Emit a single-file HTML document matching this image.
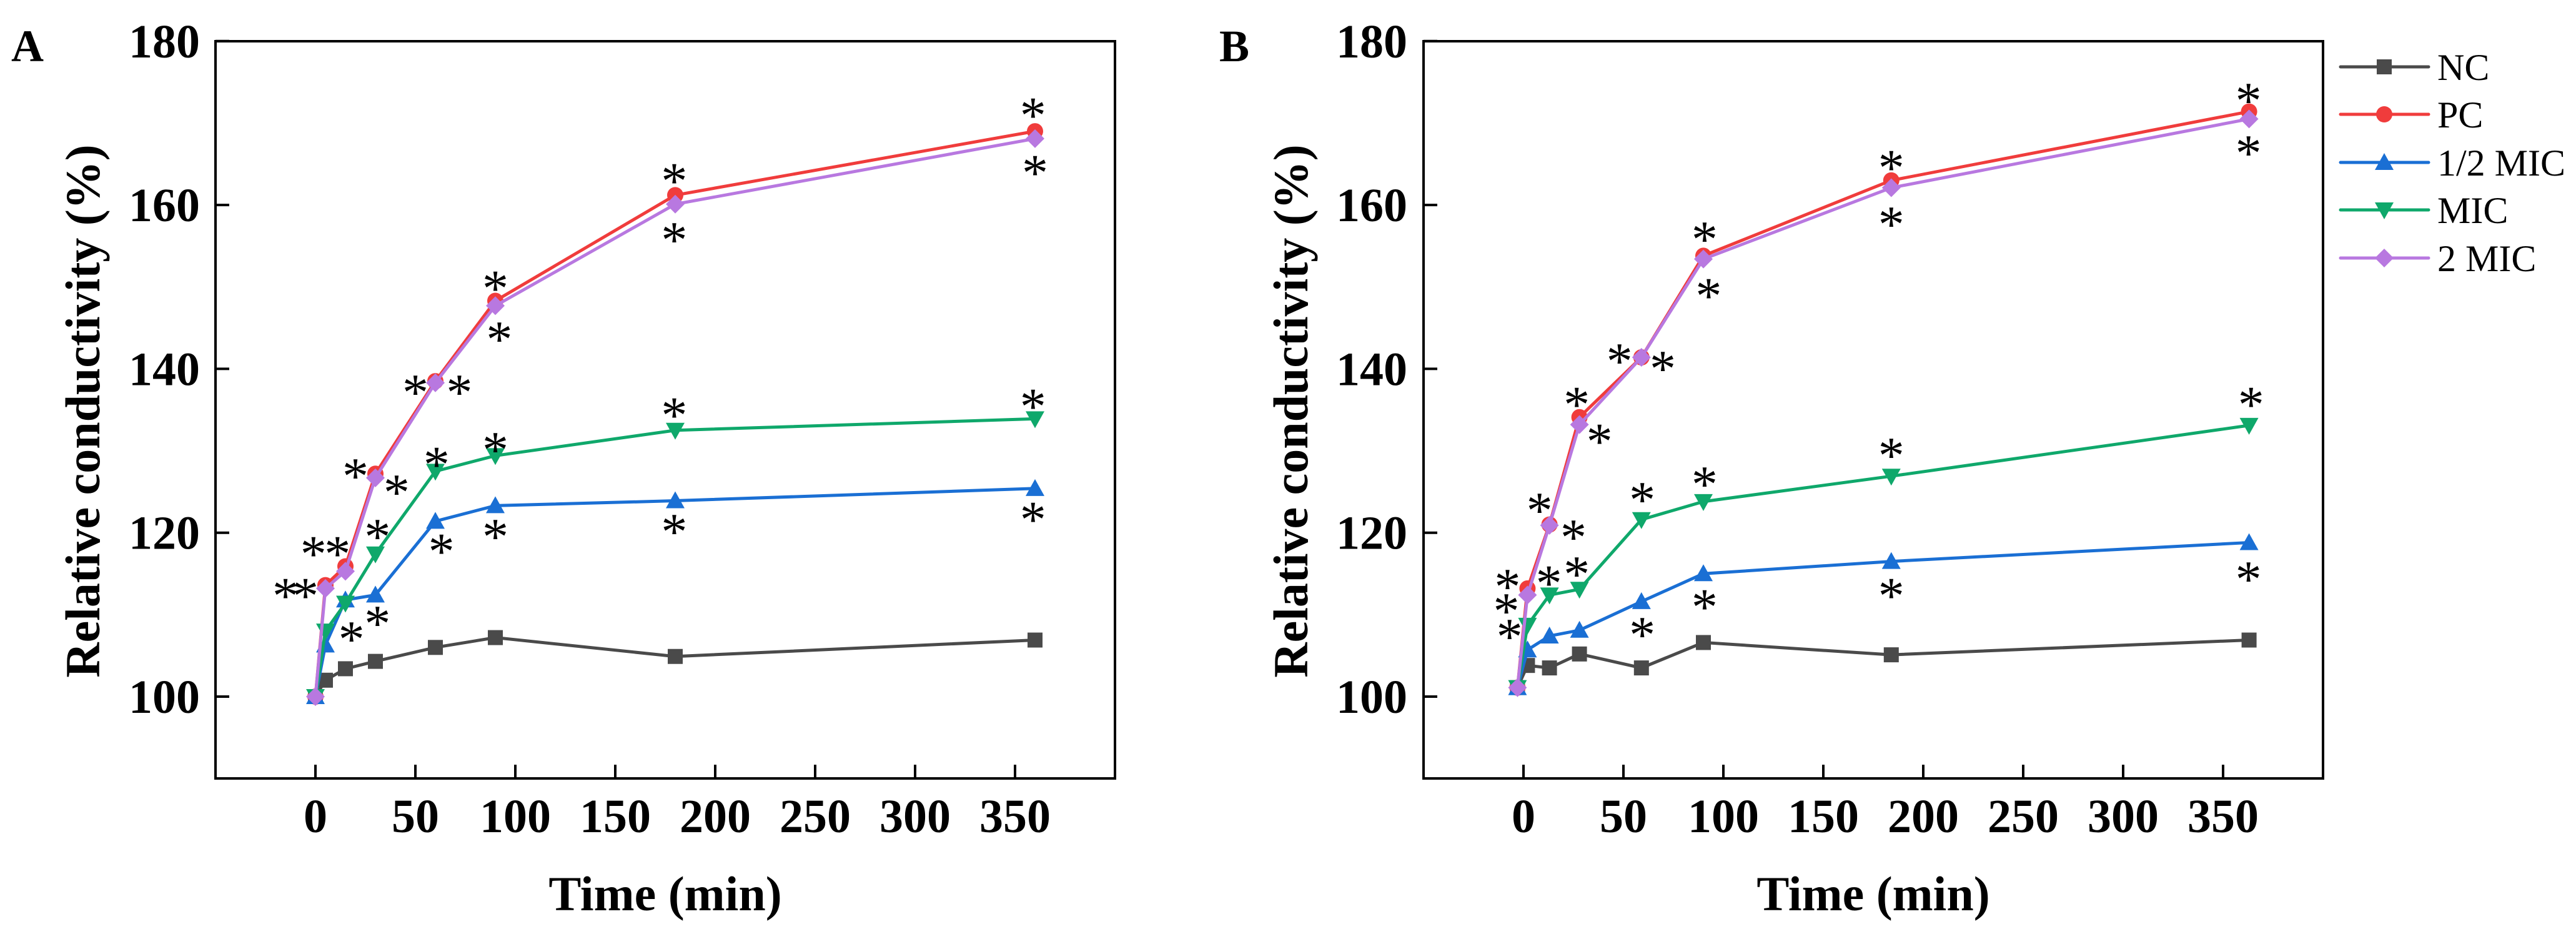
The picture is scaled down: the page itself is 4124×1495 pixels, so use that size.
<!DOCTYPE html>
<html><head><meta charset="utf-8"><style>
html,body{margin:0;padding:0;background:#fff}
svg{display:block}
text{font-family:"Liberation Serif",serif}
</style></head><body>
<svg id="c" width="4124" height="1495" viewBox="0 0 4124 1495" xmlns="http://www.w3.org/2000/svg"></svg>
<script>
const seriesNames = ["NC","PC","1/2 MIC","MIC","2 MIC"];
const colors = ["#4a4a4a","#f03c3c","#1a6fd4","#0fa86b","#b878e0"];
const markers = ["square","circle","triUp","triDown","diamond"];
const xTicks = [0,50,100,150,200,250,300,350];
const yTicks = [100,120,140,160,180];
const timesA = [0,5,15,30,60,90,180,360];
const timesB = [-3,2,13,28,59,90,184,363];
const aNC = [100,102.0,103.4,104.3,106.0,107.2,104.9,106.9];
const aPC = [100,113.6,115.9,127.2,138.5,148.3,161.2,169.0];
const aHalf = [100,106.3,111.8,112.4,121.4,123.3,123.9,125.4];
const aMIC = [100,108.0,111.4,117.4,127.5,129.4,132.5,133.9];
const a2MIC = [100,113.2,115.3,126.7,138.3,147.7,160.1,168.1];
const bNC = [101.1,103.8,103.5,105.2,103.5,106.6,105.1,106.9];
const bPC = [101.1,113.2,121.0,134.1,141.4,153.8,163.0,171.4];
const bHalf = [101.1,105.7,107.4,108.1,111.6,115.0,116.5,118.8];
const bMIC = [101.1,108.7,112.4,113.1,121.6,123.8,126.9,133.1];
const b2MIC = [101.1,112.4,120.9,133.2,141.4,153.4,162.1,170.5];
const starsAx = [-15,-5,-1,11,18,20,31,31,40.6,50,72,60.6,63,90,92,90,90,179.5,179.5,179.5,179.5,359,360,359,359];
const starsAy = [113.4,113.4,118.5,118.5,108.1,128,120.6,110,126,138.2,138.2,129.4,118.8,150.9,144.7,131.2,120.6,164,156.8,135.4,121.2,172,165,136.5,122.7];
const starsBx = [-8,-8.6,-7,8,12.7,25,26.6,26.6,38,48,69.7,59.4,59.4,90.6,92.6,90.6,90.6,184,184,184,184,362.7,362.7,364,362.7];
const starsBy = [114.5,111.5,108.4,123.8,114.9,120.5,116,136.7,132.2,142,141.1,125.1,108.6,156.9,150,127,112,165.6,158.7,130.5,113.4,173.8,167.4,136.7,115.4];

const NS="http://www.w3.org/2000/svg";
const svg=document.getElementById('c');
function mk(tag,attrs,parent){const e=document.createElementNS(NS,tag);for(const k in attrs)e.setAttribute(k,attrs[k]);(parent||svg).appendChild(e);return e;}
function marker(type,cx,cy,col,g){
  let e;
  if(type==="square")e=mk('rect',{x:cx-12,y:cy-12,width:24,height:24,fill:col},g);
  else if(type==="circle")e=mk('circle',{cx:cx,cy:cy,r:13,fill:col},g);
  else if(type==="triUp")e=mk('polygon',{points:`${cx},${cy-15} ${cx-15},${cy+12} ${cx+15},${cy+12}`,fill:col},g);
  else if(type==="triDown")e=mk('polygon',{points:`${cx},${cy+15} ${cx-15},${cy-12} ${cx+15},${cy-12}`,fill:col},g);
  else e=mk('polygon',{points:`${cx},${cy-15} ${cx+15},${cy} ${cx},${cy+15} ${cx-15},${cy}`,fill:col},g);
  return e;
}
function panel(id,x0px,letterX,labelRight,times,data,sx,sy){
  const left=x0px-160, right=x0px+1280, top=66, bottom=1246;
  const X=v=>x0px+v*3.2;
  const Y=v=>1115-(v-100)*13.115;
  const g=mk('g',{});
  
  
  const lt=mk('text',{x:letterX,y:98,'font-size':72,'font-weight':'bold'},g);lt.textContent=id;
  
  
  const fr=mk('rect',{x:left,y:top,width:right-left,height:bottom-top,fill:'none',stroke:'#000','stroke-width':4},g);
  
  
  xTicks.forEach(t=>{
    mk('line',{x1:X(t),x2:X(t),y1:bottom,y2:bottom-22,stroke:'#000','stroke-width':4},g);
    const tx=mk('text',{x:X(t),y:1332,'font-size':76,'font-weight':'bold','text-anchor':'middle'},g);tx.textContent=t;
    
    
  });
  yTicks.forEach(t=>{
    mk('line',{x1:left,x2:left+22,y1:Y(t),y2:Y(t),stroke:'#000','stroke-width':4},g);
    const ty=mk('text',{x:labelRight,y:Y(t)+26,'font-size':76,'font-weight':'bold','text-anchor':'end'},g);ty.textContent=t;
    
    
  });
  const xt=mk('text',{x:(left+right)/2,y:1457,'font-size':78,'font-weight':'bold','text-anchor':'middle'},g);xt.textContent='Time (min)';
  
  
  const yx=left-186;
  const yt=mk('text',{x:0,y:0,'font-size':78,'font-weight':'bold','text-anchor':'middle',transform:`translate(${yx},658) rotate(-90)`},g);yt.textContent='Relative conductivity (%)';
  
  
  data.forEach((arr,i)=>{
    const sg=mk('g',{},g);
    
    
    const pts=arr.map((v,j)=>X(times[j])+','+Y(v)).join(' ');
    mk('polyline',{points:pts,fill:'none',stroke:colors[i],'stroke-width':5},sg);
    arr.forEach((v,j)=>{
      const m=marker(markers[i],X(times[j]),Y(v),colors[i],sg);
      
      
    });
  });
  sx.forEach((v,i)=>{
    const s=mk('text',{x:X(v),y:Y(sy[i])+42,'font-size':84,'text-anchor':'middle'},g);s.textContent='*';
    
    
  });
}
panel('A',505,18,320,timesA,[aNC,aPC,aHalf,aMIC,a2MIC],starsAx,starsAy);
panel('B',2439,1952,2253,timesB,[bNC,bPC,bHalf,bMIC,b2MIC],starsBx,starsBy);
const lg=mk('g',{});


const rowsY=[107,183,260,336,413];
seriesNames.forEach((n,i)=>{
  const eg=mk('g',{},lg);
  
  
  mk('line',{x1:3747,x2:3888,y1:rowsY[i],y2:rowsY[i],stroke:colors[i],'stroke-width':5,'stroke-linecap':'round'},eg);
  marker(markers[i],3817,rowsY[i],colors[i],eg);
  const t=mk('text',{x:3902,y:rowsY[i]+21,'font-size':60},eg);t.textContent=n;
});
</script>
</body></html>
